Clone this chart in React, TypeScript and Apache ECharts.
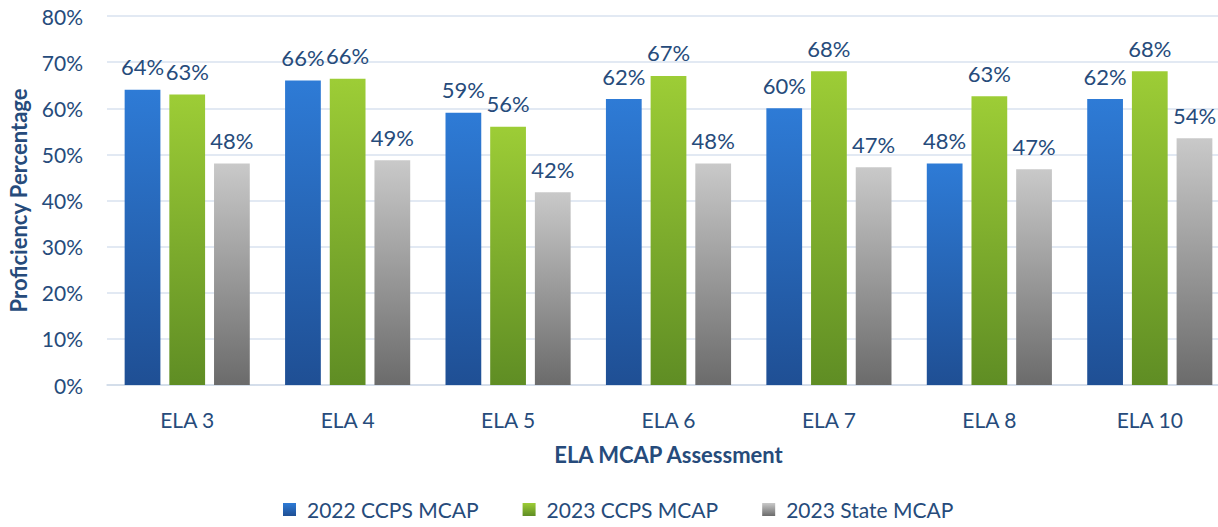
import React, { useEffect, useRef } from "react";
import * as echarts from "echarts";

const categories = ["ELA 3", "ELA 4", "ELA 5", "ELA 6", "ELA 7", "ELA 8", "ELA 10"];
const ccps2022 = [64, 66, 59, 62, 60, 48, 62];
const ccps2023 = [63, 66.4, 56, 67, 68, 62.6, 68];
const state2023 = [48, 48.7, 41.8, 48, 47.2, 46.8, 53.5];
const seriesNames = ["2022 CCPS MCAP", "2023 CCPS MCAP", "2023 State MCAP"];

const FONT = "Lato, 'Open Sans', sans-serif";
const TEXT = "#264b7b";

function grad(top: string, bottom: string) {
  return new echarts.graphic.LinearGradient(0, 0, 0, 1, [
    { offset: 0, color: top },
    { offset: 1, color: bottom },
  ]);
}

export default function App() {
  const ref = useRef<HTMLDivElement>(null);
  useEffect(() => {
    if (!ref.current) return;
    const chart = echarts.init(ref.current, undefined, { renderer: "svg" });
    const label = {
      show: true,
      position: "top" as const,
      distance: 12,
      color: TEXT,
      fontFamily: FONT,
      fontSize: 22,
      formatter: (p: any) => Math.round(p.value) + "%",
    };
    const colors = [
      ["#2e7bd6", "#1f4f94"],
      ["#9dcd36", "#5f8d24"],
      ["#c9c9c9", "#6b6b6b"],
    ];
    const datas = [ccps2022, ccps2023, state2023];
    chart.setOption({
      animation: false,
      backgroundColor: "#ffffff",
      grid: { left: 107, width: 1123, top: 16, bottom: 142, outerBoundsMode: "none", containLabel: false },
      legend: {
        bottom: 2,
        left: 278,
        itemWidth: 13,
        itemHeight: 13,
        itemGap: 44,
        icon: "rect",
        textStyle: { color: TEXT, fontFamily: FONT, fontSize: 21, padding: [0, 0, 0, 6] },
        data: seriesNames,
      },
      xAxis: {
        type: "category",
        data: categories,
        name: "ELA MCAP Assessment",
        nameLocation: "middle",
        nameGap: 58,
        nameTextStyle: { color: TEXT, fontFamily: FONT, fontSize: 22, fontWeight: "bold" },
        axisLine: { lineStyle: { color: "#d0dae8", width: 1.5 } },
        axisTick: { show: false },
        axisLabel: { color: TEXT, fontFamily: FONT, fontSize: 21, margin: 24 },
      },
      yAxis: {
        type: "value",
        min: 0,
        max: 80,
        interval: 10,
        name: "Proficiency Percentage",
        nameLocation: "middle",
        nameGap: 78,
        nameTextStyle: { color: TEXT, fontFamily: FONT, fontSize: 22, fontWeight: "bold" },
        axisLabel: { color: TEXT, fontFamily: FONT, fontSize: 21, margin: 24, formatter: "{value}%" },
        splitLine: { lineStyle: { color: "#d9e2ef", width: 1.5 } },
        axisLine: { show: false },
        axisTick: { show: false },
      },
      series: datas.map((d, i) => ({
        type: "bar",
        name: seriesNames[i],
        data: d,
        barGap: "25%",
        barCategoryGap: "22%",
        itemStyle: { color: grad(colors[i][0], colors[i][1]) },
        label,
      })),
    });
    return () => chart.dispose();
  }, []);
  return (
    <div
      ref={ref}
      style={{ position: "fixed", left: 0, top: 0, width: 1218, height: 527, background: "#fff" }}
    />
  );
}
